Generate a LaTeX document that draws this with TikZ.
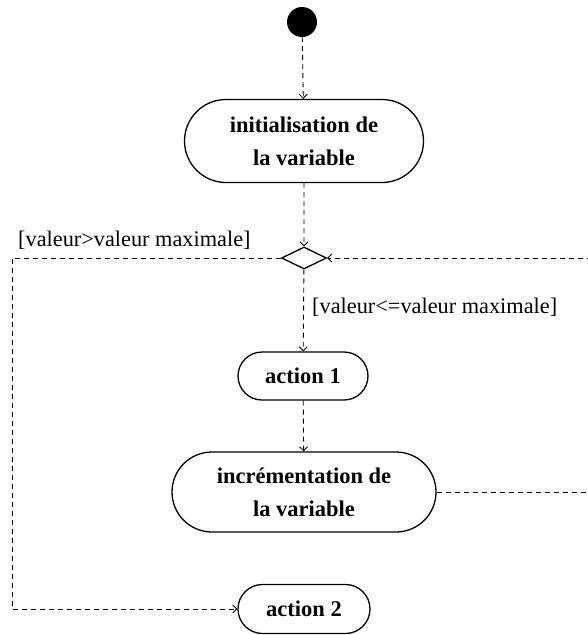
\documentclass[tikz,border=0pt]{standalone}
\usepackage{fontspec}
\setmainfont{Liberation Serif}
\usetikzlibrary{arrows.meta,shapes.geometric,shapes.misc}
\begin{document}
\begin{tikzpicture}[x=1pt,y=-1pt,
  flow/.style={draw, line width=0.9pt, dash pattern=on 5pt off 4pt, -{Straight Barb[length=4pt,width=8pt,line width=0.9pt]}},
  activity/.style={draw, line width=1.3pt, rounded rectangle, align=center,
    font=\fontsize{22.5}{33}\selectfont\bfseries, inner sep=0pt},
  guard/.style={font=\fontsize{22.3}{24}\selectfont, inner sep=0pt}]
\useasboundingbox (0,0) rectangle (588,635);
\clip (0,0) rectangle (588,635);

% initial state
\node[circle, fill=black, minimum size=30pt, inner sep=0pt] (start) at (302,22) {};

% activities
\node[activity, minimum width=239pt, minimum height=83pt] (init) at (304,141) {initialisation de\\la variable};
\node[draw, line width=1.3pt, diamond, aspect=2, minimum width=45pt, minimum height=22pt, inner sep=0pt] (dec) at (304,258) {};
\node[activity, minimum width=130pt, minimum height=48pt] (act1) at (303,376) {action 1};
\node[activity, minimum width=264pt, minimum height=80pt] (incr) at (304,492) {incrémentation de\\la variable};
\node[activity, minimum width=132pt, minimum height=49pt] (act2) at (304,609) {action 2};

% loop corners
\coordinate (lc1) at (12,258);
\coordinate (lc2) at (12,609);
\coordinate (rc1) at (600,492);
\coordinate (rc2) at (600,258);

% control flows
\draw[flow] (start) -- (init);
\draw[flow] (init) -- (dec);
\draw[flow] (dec) -- (act1);
\draw[flow] (act1) -- (incr);
\draw[flow] (incr.east) -- (rc1) -- (rc2) -- (dec.east);
\draw[flow] (dec.west) -- (lc1) -- (lc2) -- (act2.west);

% guards
\node[guard, anchor=west] (gexit) at (18,240) {[valeur>valeur maximale]};
\node[guard, anchor=west] (gloop) at (312,307) {[valeur<=valeur maximale]};
\end{tikzpicture}
\end{document}
